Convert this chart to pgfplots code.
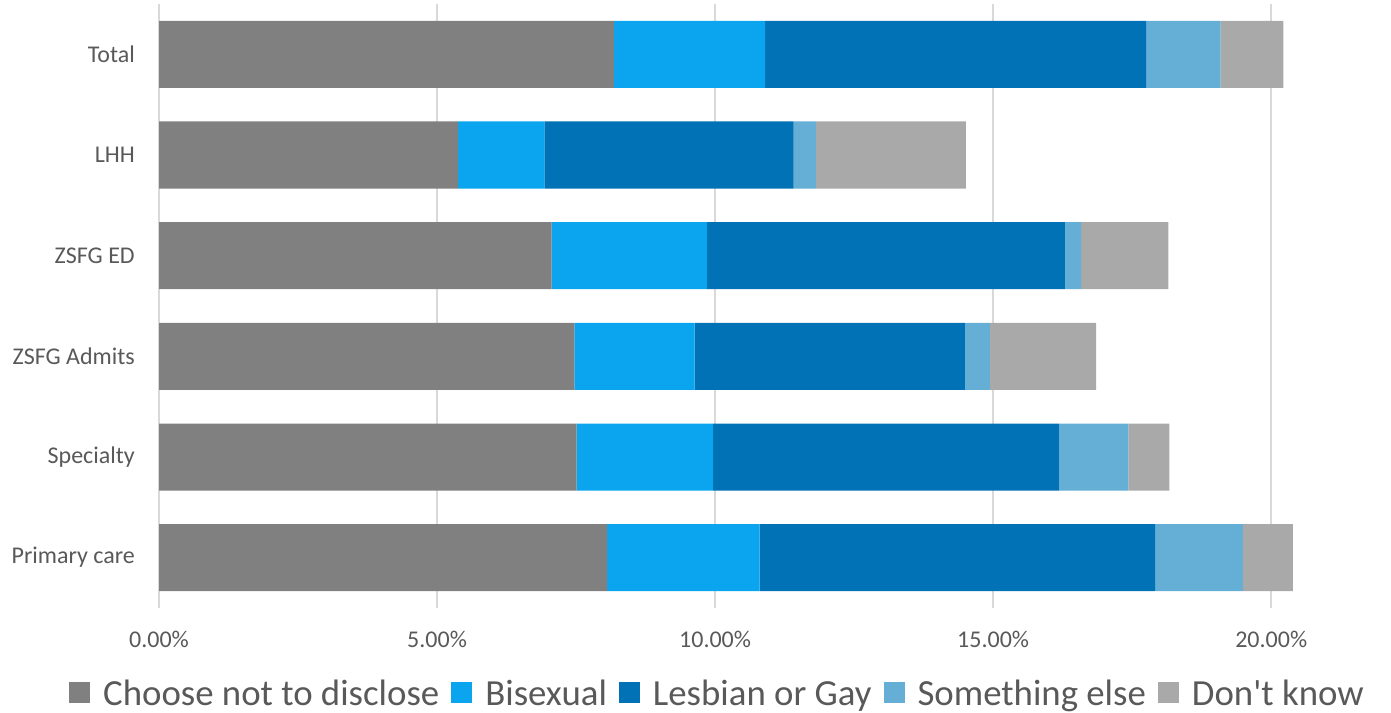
\documentclass[border=0pt]{standalone}
\usepackage{pgfplots}
\pgfplotsset{compat=1.18}
\usepackage{fontspec}
\setmainfont{Carlito}
\definecolor{cnd}{HTML}{808080}
\definecolor{bis}{HTML}{0AA5EE}
\definecolor{lg}{HTML}{0272B7}
\definecolor{se}{HTML}{65AFD6}
\definecolor{dk}{HTML}{A9A9A9}
\definecolor{gridc}{HTML}{D9D9D9}
\definecolor{txt}{HTML}{595959}
\begin{document}
\begin{tikzpicture}[x=1pt,y=1pt]
\path[use as bounding box] (0,0) rectangle (1391,712);
\begin{axis}[
  at={(159pt,104pt)}, anchor=south west,
  scale only axis, width=1140pt, height=604pt,
  xbar stacked, bar width=67pt,
  xmin=0, xmax=20.5, ymin=-0.5, ymax=5.5,
  ytick={0,1,2,3,4,5},
  yticklabels={Primary care,Specialty,ZSFG Admits,ZSFG ED,LHH,Total},
  xtick={0,5,10,15,20},
  xticklabel={\pgfmathprintnumber[fixed,fixed zerofill,precision=2]{\tick}\%},
  /pgf/number format/assume math mode=true,
  xmajorgrids, major grid style={draw=gridc, line width=1.5pt},
  axis line style={draw=none}, major tick length=0pt, tick style={draw=none},
  ticklabel style={font=\fontsize{24}{28}\selectfont, text=txt},
  yticklabel style={inner sep=0pt, anchor=east, xshift=-24pt},
  xticklabel style={inner sep=0pt, anchor=north, yshift=-23pt},
  every axis plot/.append style={draw=none},
  legend columns=5,
  legend style={draw=none, fill=none, at={(0.489,-0.1407)}, anchor=center,
    font=\fontsize{36.8}{42}\selectfont, text=txt,
    nodes={inner sep=0pt},
    /tikz/every even column/.style={column sep=12pt},
    /tikz/every odd column/.style={column sep=13pt}},
  legend image code/.code={\fill[#1] (0pt,-10.5pt) rectangle (21pt,10.5pt);},
]
% Choose not to disclose
\addplot[fill=cnd] coordinates {(8.06,0) (7.51,1) (7.47,2) (7.06,3) (5.38,4) (8.18,5)};
\addlegendentry{Choose not to disclose}
% Bisexual
\addplot[fill=bis] coordinates {(2.74,0) (2.45,1) (2.16,2) (2.79,3) (1.55,4) (2.72,5)};
\addlegendentry{Bisexual}
% Lesbian or Gay
\addplot[fill=lg] coordinates {(7.11,0) (6.23,1) (4.86,2) (6.44,3) (4.48,4) (6.85,5)};
\addlegendentry{Lesbian or Gay}
% Something else
\addplot[fill=se] coordinates {(1.58,0) (1.24,1) (0.45,2) (0.29,3) (0.40,4) (1.34,5)};
\addlegendentry{Something else}
% Don't know
\addplot[fill=dk] coordinates {(0.90,0) (0.74,1) (1.91,2) (1.57,3) (2.70,4) (1.13,5)};
\addlegendentry{Don\textquotesingle t know}
\end{axis}
\end{tikzpicture}
\end{document}
